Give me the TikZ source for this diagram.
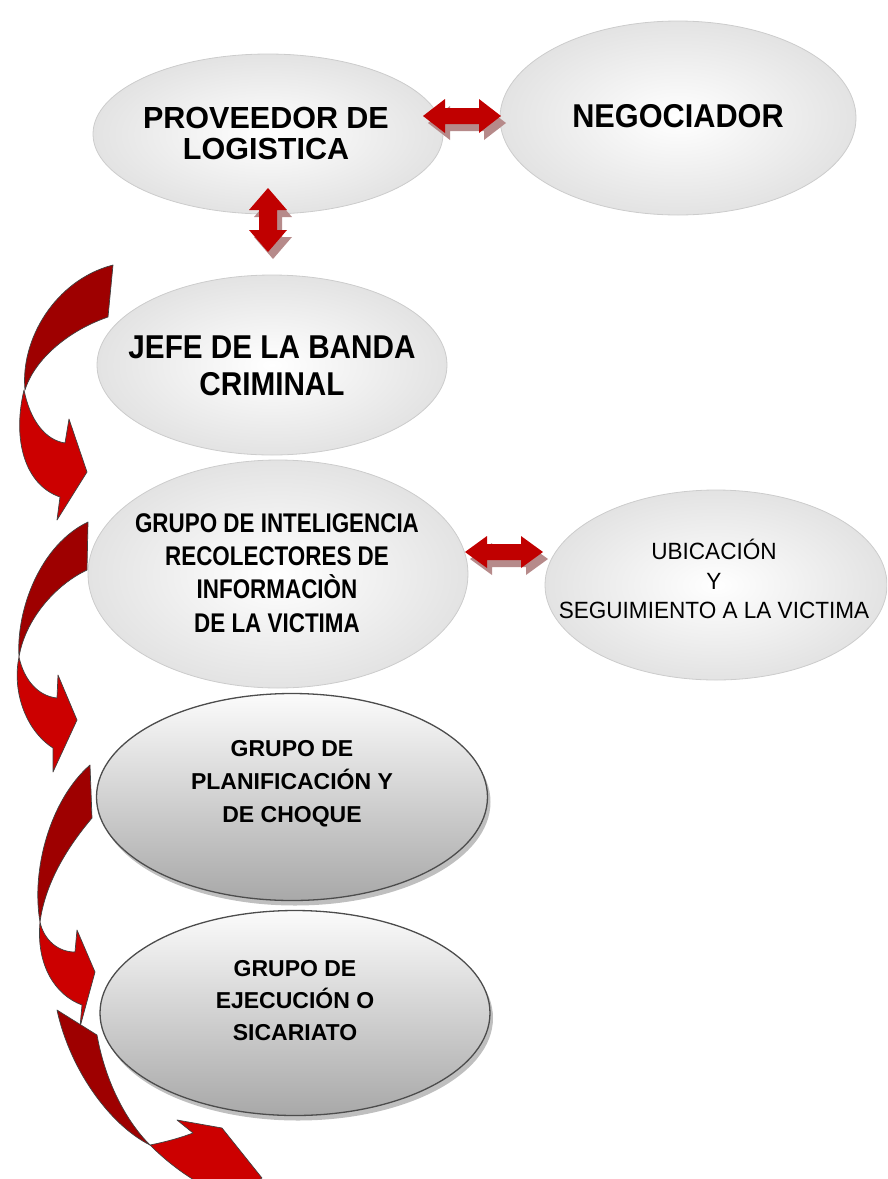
\documentclass[tikz,border=0pt]{standalone}
\usepackage{fontspec}
\setmainfont{Liberation Sans}
\newfontfamily\fProv{Liberation Sans}[FakeStretch=1.0]
\newfontfamily\fNeg{Liberation Sans}[FakeStretch=0.93]
\newfontfamily\fJefe{Liberation Sans}[FakeStretch=0.9]
\newfontfamily\fIntel{Liberation Sans}[FakeStretch=0.83]
\newfontfamily\fUbic{Liberation Sans}[FakeStretch=0.96]
\usetikzlibrary{shapes.geometric,shadows,calc}
\definecolor{arrred}{RGB}{192,0,0}
\definecolor{arrshadow}{RGB}{182,138,138}
\definecolor{cdark}{RGB}{158,0,0}
\definecolor{cbright}{RGB}{204,0,0}
\tikzset{
  lightell/.style={ellipse, inner sep=0pt, draw=gray!40, line width=0.8pt,
    shading=radial, inner color=white, outer color=gray!22},
  darkell/.style={ellipse, inner sep=0pt, draw=gray!60!black, line width=1.3pt,
    top color=gray!3, bottom color=gray!68,
    drop shadow={shadow xshift=3pt, shadow yshift=-5pt, fill=gray!50, opacity=1}},
  lbl/.style={align=center, inner sep=0pt, text=black},
  darkpart/.style={fill=cdark, draw=black!75, line width=0.7pt, line join=round},
  brightpart/.style={fill=cbright, draw=black!75, line width=0.7pt, line join=round},
  dblfill/.style={fill=arrred},
  dblshadow/.style={fill=arrshadow},
}
% double arrow: #1 centre, #2 rotation, #3 half length, #4 half head width, #5 half shaft width
\newcommand\dblarrow[5]{%
  \begin{scope}[shift={#1}]
    \begin{scope}[shift={(5,7)}, rotate=#2]
      \path[dblshadow] (-#3,0) -- (-#3+22,-#4) -- (-#3+22,-#5) -- (#3-22,-#5) -- (#3-22,-#4)
        -- (#3,0) -- (#3-22,#4) -- (#3-22,#5) -- (-#3+22,#5) -- (-#3+22,#4) -- cycle;
    \end{scope}
    \begin{scope}[rotate=#2]
      \path[dblfill] (-#3,0) -- (-#3+22,-#4) -- (-#3+22,-#5) -- (#3-22,-#5) -- (#3-22,-#4)
        -- (#3,0) -- (#3-22,#4) -- (#3-22,#5) -- (-#3+22,#5) -- (-#3+22,#4) -- cycle;
    \end{scope}
  \end{scope}}
\begin{document}
\begin{tikzpicture}[x=1pt,y=-1pt]
\useasboundingbox (0,0) rectangle (887,1179);
\clip (0,0) rectangle (887,1179);

% ellipses
\node[lightell, minimum width=350pt, minimum height=160pt] (prov) at (268,134) {};
\node[lightell, minimum width=356pt, minimum height=194pt] (neg) at (678,118) {};
\node[lightell, minimum width=350pt, minimum height=180pt] (jefe) at (272,365) {};
\node[lightell, minimum width=380pt, minimum height=228pt] (intel) at (278,574) {};
\node[lightell, minimum width=342pt, minimum height=190pt] (ubic) at (716,585) {};
\node[darkell, minimum width=391pt, minimum height=207pt] (plan) at (292,797) {};
\node[darkell, minimum width=390pt, minimum height=205pt] (ejec) at (295,1013) {};

% labels
\node[lbl, font=\fProv\bfseries\fontsize{30.5}{31}\selectfont] (provT) at (266,133)
  {PROVEEDOR DE\\LOGISTICA};
\node[lbl, font=\fNeg\bfseries\fontsize{33}{36}\selectfont] (negT) at (678,116) {NEGOCIADOR};
\node[lbl, font=\fJefe\bfseries\fontsize{33}{37}\selectfont] (jefeT) at (272,366)
  {JEFE DE LA BANDA\\CRIMINAL};
\node[lbl, font=\fIntel\bfseries\fontsize{27}{33.3}\selectfont] (intelT) at (277,573)
  {GRUPO DE INTELIGENCIA\\RECOLECTORES DE\\INFORMACIÒN\\DE LA VICTIMA};
\node[lbl, font=\fUbic\fontsize{23.5}{29.5}\selectfont] (ubicT) at (714,579)
  {UBICACIÓN\\Y\\SEGUIMIENTO A LA VICTIMA};
\node[lbl, font=\bfseries\fontsize{23}{33}\selectfont] (planT) at (292,784)
  {GRUPO DE\\PLANIFICACIÓN Y\\DE CHOQUE};
\node[lbl, font=\bfseries\fontsize{23}{32}\selectfont] (ejecT) at (295,1001)
  {GRUPO DE\\EJECUCIÓN O\\SICARIATO};

% double arrows between nodes
\dblarrow{(462,116)}{0}{39}{17}{8}
\dblarrow{(268,220)}{90}{32}{19}{9}
\dblarrow{(504,552)}{0}{39}{16}{8}

% curved arrows (left side)
% 1: jefe -> intel
\path[darkpart] (113,265) -- (108,317) .. controls (70,330) and (35,358) .. (25,390)
  .. controls (20,340) and (55,280) .. (113,265) -- cycle;
\path[brightpart] (24,390) .. controls (30,420) and (45,440) .. (65,443) -- (69,419) -- (87,472)
  -- (57,520) -- (60,497) .. controls (25,485) and (12,440) .. (24,390) -- cycle;
% 2: intel -> plan
\path[darkpart] (88,522) -- (87,570) .. controls (55,585) and (25,620) .. (19,657)
  .. controls (16,610) and (40,545) .. (88,522) -- cycle;
\path[brightpart] (19,657) .. controls (24,680) and (38,696) .. (57,698) -- (58,675) -- (77,720)
  -- (53,772) -- (53,748) .. controls (25,730) and (12,690) .. (19,657) -- cycle;
% 3: plan -> ejec
\path[darkpart] (90,765) -- (92,818) .. controls (65,850) and (45,885) .. (40,922)
  .. controls (31,870) and (50,800) .. (90,765) -- cycle;
\path[brightpart] (40,922) .. controls (44,940) and (58,952) .. (75,952) -- (77,930) -- (95,972)
  -- (80,1027) -- (82,1005) .. controls (55,995) and (36,965) .. (40,922) -- cycle;
% 4: ejec -> out
\path[darkpart] (57,1010) -- (97,1035) .. controls (105,1080) and (125,1120) .. (150,1145)
  .. controls (110,1125) and (70,1070) .. (57,1010) -- cycle;
\path[brightpart] (150,1145) .. controls (165,1142) and (180,1138) .. (193,1133) -- (177,1120)
  -- (222,1128) -- (262,1178) -- (215,1205) -- (205,1186)
  .. controls (185,1176) and (165,1160) .. (150,1145) -- cycle;
\end{tikzpicture}
\end{document}
